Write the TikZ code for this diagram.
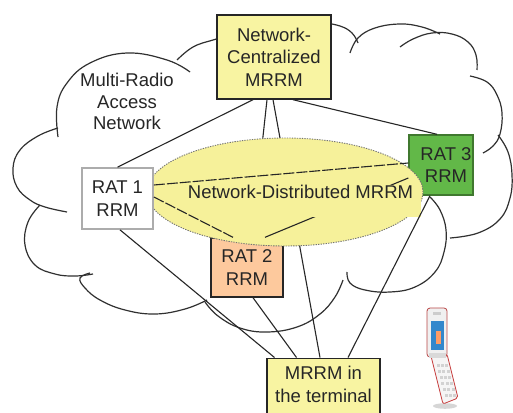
\documentclass[tikz,border=0pt]{standalone}
\usepackage{fontspec}
\setmainfont{Liberation Sans}
\usetikzlibrary{calc,shapes.geometric}

\definecolor{boxyellow}{HTML}{F8F4A2}
\definecolor{ellyellow}{HTML}{F6F19A}
\definecolor{ratorange}{HTML}{FDC99D}
\definecolor{ratgreen}{HTML}{62B848}
\definecolor{inkgray}{HTML}{262626}
\definecolor{cloudink}{HTML}{303030}

\begin{document}
\begin{tikzpicture}[x=1pt,y=1pt,
  font=\fontsize{18.5}{22.5}\selectfont,
  box/.style={draw=inkgray, line width=1.4pt, align=center, inner sep=0pt, text=inkgray},
  link/.style={draw=inkgray, line width=1.1pt},
  inlink/.style={link, dash pattern=on 11pt off 2pt},
  cloudline/.style={draw=cloudink, line width=1.2pt},
  bump/.style={smooth, tension=0.7}]

\useasboundingbox (0,0) rectangle (513,-412);
\clip (0,0) rectangle (513,-412);
\fill[white] (0,0) rectangle (513,-412);

% --- the access-network cloud, one arc per bump ---
\draw[cloudline] plot[bump] coordinates {(58,-128) (38,-136) (20,-150) (13,-168) (17,-187) (30,-200) (45,-207) (67,-212)};
\draw[cloudline] plot[bump] coordinates {(58,-137) (57,-107) (67,-83) (90,-63) (127,-53) (167,-60) (190,-72)};
\draw[cloudline] plot[bump] coordinates {(177,-60) (193,-47) (213,-40) (232,-35)};
\draw[cloudline] plot[bump] coordinates {(320,-22) (340,-26) (352,-33) (358,-43)};
\draw[cloudline] plot[bump] coordinates {(350,-53) (358,-38) (375,-28) (400,-24) (422,-27) (440,-34)};
\draw[cloudline] plot[bump] coordinates {(400,-47) (413,-39) (432,-33) (452,-34) (468,-42) (476,-55) (477,-70)};
\draw[cloudline] plot[bump] coordinates {(470,-76) (487,-82) (497,-95) (502,-113) (500,-134) (493,-146) (483,-153)};
\draw[cloudline] plot[bump] coordinates {(498,-135) (508,-152) (512,-175) (510,-198) (500,-219) (478,-233) (450,-238)};
\draw[cloudline] plot[bump] coordinates {(430,-197) (440,-210) (446,-230) (444,-252) (435,-272) (415,-287) (390,-292) (365,-290) (350,-283) (347,-272)};
\draw[cloudline] plot[bump] coordinates {(343,-280) (335,-297) (320,-314) (297,-327) (267,-332) (240,-328) (218,-316) (205,-302)};
\draw[cloudline] plot[bump] coordinates {(207,-300) (185,-309) (155,-314) (125,-310) (100,-300) (85,-288) (80,-278) (90,-273)};
\draw[cloudline] plot[bump] coordinates {(40,-205) (28,-222) (25,-245) (35,-265) (55,-274) (75,-276) (93,-274)};

\node[text=inkgray, align=center, font=\fontsize{18.5}{21.5}\selectfont]
  (ran) at (127,-101.5) {Multi-Radio\\Access\\Network};

% --- resource managers ---
\node[box, fill=boxyellow, minimum width=114, minimum height=84]
  (nc) at (274,-57) {Network-\\Centralized\\MRRM};
\node[box, fill=ratorange, minimum width=72, minimum height=59]
  (rat2) at (247,-267.5) {RAT 2\\RRM};
\node[box, fill=ratgreen, draw=ratgreen!65!black, minimum width=64, minimum height=60]
  (rat3) at (441,-165) {\hspace*{10pt}RAT 3\\\hspace*{10pt}RRM};
% the terminal box runs on past the lower edge
\node[box, fill=boxyellow, line width=1.8pt, minimum width=113, inner ysep=8pt, anchor=north]
  (term) at (323.5,-357.5) {MRRM in\\the terminal\\\strut};

% --- connections hidden partly behind the distributed MRRM ---
\draw[link] ([xshift=-7]nc.south) -- ([xshift=5]rat2.north);
\draw[link] ([xshift=-1]nc.south) -- ([xshift=-3.5]term.north);
\draw[link] ([xshift=19]nc.south) -- ([xshift=-4]rat3.north);
\draw[link] ([xshift=6]rat2.south) -- ([xshift=-27]term.north);

% --- network-distributed MRRM ---
\node[ellipse, fill=ellyellow, draw=black!55, line width=0.9pt,
      dash pattern=on 1.3pt off 1.2pt, minimum width=276, minimum height=108, inner sep=0pt]
  (ndist) at (285,-192) {};

\node[box, fill=white, draw=gray!65, line width=1.7pt, minimum width=71, minimum height=61]
  (rat1) at (117.5,-198.5) {RAT 1\\RRM};
\draw[link] ([xshift=-21]nc.south) -- (rat1.north);

\draw[link] ([yshift=-13]rat3.west) -- ([xshift=18]rat2.north);

\node[fill=ellyellow, inner sep=0pt, minimum width=216, minimum height=32]
  (ndback) at (313,-201) {};
\node[text=inkgray, anchor=base, inner sep=0pt] (ndtext) at (300.5,-198) {Network-Distributed MRRM};

\draw[inlink] ([yshift=13.5]rat1.east) -- ([yshift=2]rat3.west);
\draw[inlink] ([yshift=1.5]rat1.east) -- ([xshift=-14]rat2.north);

\draw[link] ([xshift=2.5]rat1.south) -- ([xshift=-49]term.north);
\draw[link] ([xshift=-11]rat3.south) -- ([xshift=24.5]term.north);

% --- flip phone ---
\fill[gray!45, opacity=0.7] (445,-406) ellipse [x radius=12, y radius=2.8];
\draw[draw=red!55!gray, fill=white!92!gray, line width=0.8pt, rounded corners=2pt]
  (431,-356) -- (447,-354) -- (458,-398) -- (443,-404) -- cycle;
\foreach \r in {0,...,5}{
  \foreach \c in {0,1,2}{
    \fill[gray!35] ($(436.5,-364)+(\c*4.3,0)+(\r*1.6,-\r*6)$) rectangle ++(3,-3.2);
  }
}
\draw[draw=red!45!gray, fill=gray!12, line width=0.8pt, rounded corners=3pt]
  (427,-308) rectangle (447,-357);
\fill[gray!40] (433,-312) rectangle (441,-315);
\fill[blue!45!cyan!60!gray] (431,-321) rectangle (444,-350);
\fill[orange!70!red!60] (436,-331) rectangle (441,-344);
\fill[gray!30] (429,-353) rectangle (446,-358);
\end{tikzpicture}
\end{document}
